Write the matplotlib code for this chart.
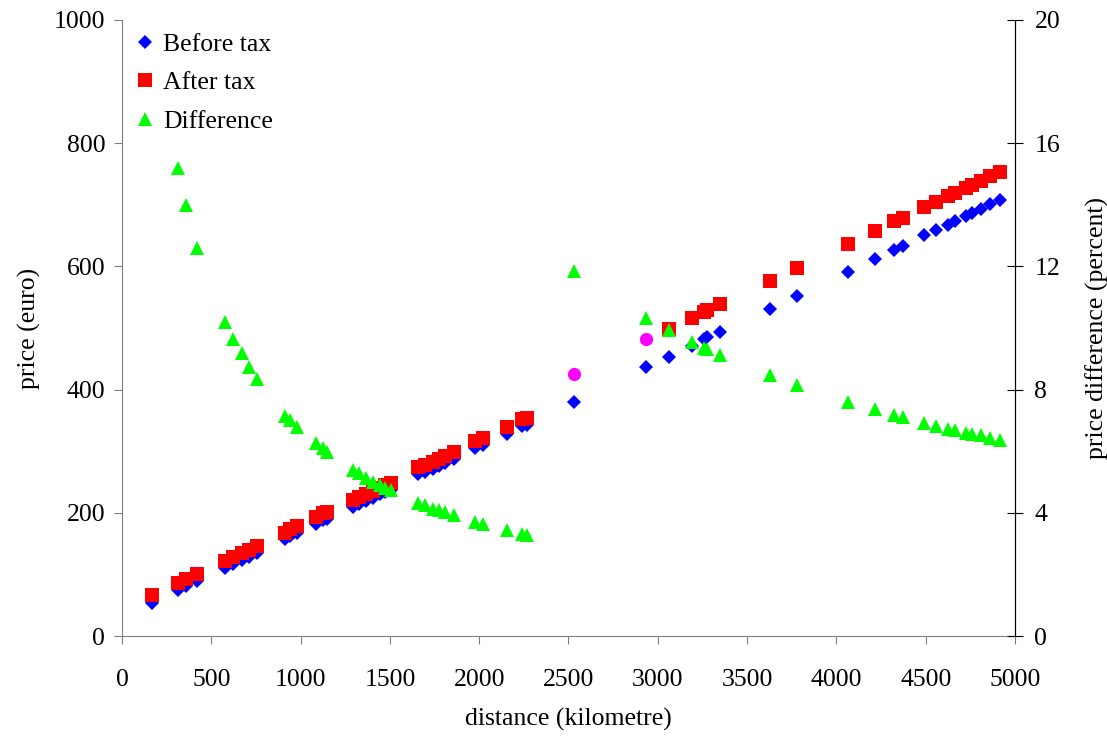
import numpy as np
import matplotlib.pyplot as plt

plt.rcParams['font.family'] = ['Liberation Serif', 'DejaVu Serif']

distance = [168, 313, 358, 420, 577, 623, 670, 713, 754, 913, 941, 978,
            1084, 1127, 1146, 1294, 1328, 1366, 1404, 1445, 1473, 1505,
            1659, 1697, 1740, 1777, 1809, 1859, 1976, 2020, 2154, 2238, 2266,
            2533, 2936, 3061, 3193, 3259, 3277, 3348, 3628, 3779,
            4065, 4216, 4322, 4373, 4490, 4558, 4625, 4664, 4726, 4759,
            4810, 4860, 4916]

before_tax = [54, 74.7, 80.7, 89.7, 110.7, 116.8, 122.7, 128.7, 134.8, 156.8, 161.7, 166.7,
              182.6, 187.6, 189.7, 209.7, 214.7, 219.7, 224.8, 229.8, 233.8, 237.8,
              262.6, 266.7, 271.7, 276.7, 280.7, 287.7, 305.3, 309.7, 328.7, 340.5, 343.1,
              380, 436, 453, 471, 481.6, 485, 493, 531, 552,
              591, 612, 627, 633, 651, 659, 667, 673, 682, 687,
              693, 701, 708]

after_tax = [66.5, 86, 92, 101, 122, 128, 134, 140, 146, 168, 173, 178,
             194, 199, 201, 221, 226, 231, 236, 241, 245, 249,
             274, 278, 283, 288, 292, 299, 316.6, 321, 340, 351.8, 354.4,
             np.nan, np.nan, 498, 517, 526.5, 529, 539, 576, 598,
             636, 657, 673, 679, 696, 705, 714, 719, 728, 732,
             739, 747, 754]

difference = [np.nan, 15.2, 14.0, 12.6, 10.2, 9.63, 9.18, 8.74, 8.33, 7.15, 7.01, 6.80,
              6.26, 6.09, 5.98, 5.39, 5.28, 5.14, 5.0, 4.89, 4.80, 4.73,
              4.33, 4.25, 4.14, 4.09, 4.02, 3.93, 3.71, 3.64, 3.44, 3.31, 3.28,
              11.85, 10.31, 9.94, 9.56, 9.34, 9.32, 9.12, 8.47, 8.15,
              7.61, 7.37, 7.18, 7.12, 6.93, 6.83, 6.72, 6.69, 6.60, 6.57,
              6.53, 6.43, 6.36]

# after-tax points drawn in magenta
marked_distance = [2533, 2936]
marked_after_tax = [425, 481.6]

fig = plt.figure(figsize=(11.07, 7.40), dpi=100)
ax = fig.add_axes([0.1102, 0.1405, 0.8067, 0.8325])
ax2 = ax.twinx()

b, = ax.plot(distance, before_tax, 'D', color='#0000FF', ms=7.5, mew=0, label='Before tax')
r, = ax.plot(distance, after_tax, 's', color='#FF0000', ms=9.5, mew=0, label='After tax')
ax.plot(marked_distance, marked_after_tax, 'o', color='#FF00FF', ms=9.5, mew=0)
g, = ax2.plot(distance, difference, '^', color='#00FF00', ms=9.5, mew=0, label='Difference')

ax.set_xlim(0, 5000)
ax.set_ylim(0, 1000)
ax2.set_ylim(0, 20)
ax.set_xticks(range(0, 5001, 500))
ax.set_yticks(range(0, 1001, 200))
ax2.set_yticks(range(0, 21, 4))

fs = 18.5
ax.tick_params(axis='both', labelsize=fs, direction='out', length=6, color='#808080')
ax.tick_params(axis='x', pad=18)
ax.tick_params(axis='y', pad=6)
ax2.tick_params(axis='y', labelsize=fs, direction='inout', length=12, pad=8, color='black')

for s in ['top']:
    ax.spines[s].set_visible(False)
    ax2.spines[s].set_visible(False)
ax.spines['left'].set_color('#808080')
ax.spines['bottom'].set_color('#808080')
ax2.spines['left'].set_visible(False)
ax2.spines['bottom'].set_visible(False)
ax2.spines['right'].set_color('black')

ax.set_xlabel('distance (kilometre)', fontsize=fs, labelpad=12)
ax.set_ylabel('price (euro)', fontsize=fs, labelpad=9)
ax2.set_ylabel('price difference (percent)', fontsize=fs, labelpad=18)

ax2.legend(handles=[b, r, g], loc='upper left', frameon=False, fontsize=fs,
           handlelength=0.8, handletextpad=0.3, borderaxespad=0.1, labelspacing=0.6)

fig.savefig('out.png', dpi=100)
